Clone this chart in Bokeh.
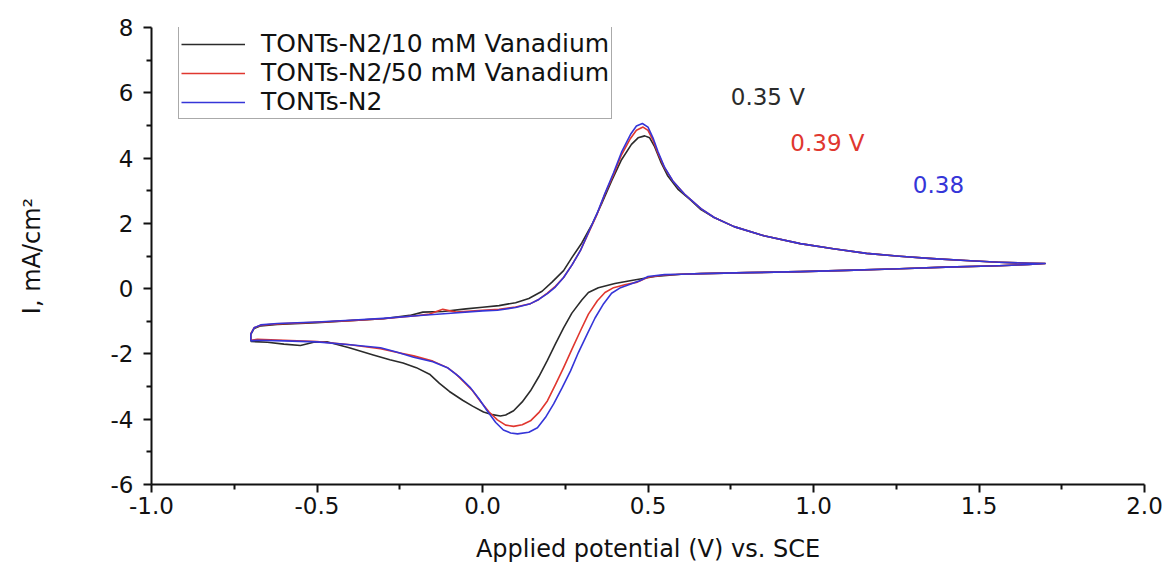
from bokeh.plotting import figure
from bokeh.models import Range1d, FixedTicker, Legend, LegendItem, Label, CustomJSTickFormatter
from bokeh.embed import file_html
from bokeh.resources import INLINE

# ---- data ----
series_names = ["TONTs-N2/10 mM Vanadium", "TONTs-N2/50 mM Vanadium", "TONTs-N2"]
series_colors = ["#2b2b2b", "#e0372f", "#3535d8"]

x_10mM = [-0.70, -0.70, -0.69, -0.67, -0.62, -0.50, -0.40, -0.30, -0.22, -0.18, -0.12, -0.05, 0.00, 0.05, 0.10,
          0.14, 0.18, 0.21, 0.245, 0.27, 0.30, 0.33, 0.36, 0.39, 0.42, 0.45, 0.47, 0.49, 0.505, 0.52, 0.54, 0.56,
          0.59, 0.63, 0.66, 0.70, 0.76, 0.85, 0.96, 1.06, 1.16, 1.26, 1.36, 1.46, 1.56, 1.65, 1.70,
          1.65, 1.56, 1.40, 1.26, 1.10, 0.96, 0.80, 0.66, 0.60, 0.52, 0.45, 0.40, 0.35, 0.32, 0.30, 0.27, 0.245,
          0.22, 0.196, 0.17, 0.145, 0.12, 0.094, 0.07, 0.054, 0.03, 0.003, -0.03, -0.06, -0.10, -0.13, -0.16,
          -0.20, -0.24, -0.28, -0.33, -0.40, -0.47, -0.51, -0.55, -0.60, -0.65, -0.70]
y_10mM = [-1.62, -1.40, -1.22, -1.14, -1.10, -1.04, -0.98, -0.92, -0.82, -0.72, -0.70, -0.62, -0.57, -0.52, -0.43,
          -0.30, -0.08, 0.20, 0.55, 0.95, 1.40, 1.95, 2.60, 3.30, 3.95, 4.42, 4.62, 4.68, 4.62, 4.35, 3.85, 3.45,
          3.05, 2.70, 2.42, 2.18, 1.90, 1.62, 1.38, 1.22, 1.08, 0.99, 0.92, 0.86, 0.81, 0.78, 0.77,
          0.74, 0.70, 0.66, 0.61, 0.56, 0.52, 0.49, 0.46, 0.44, 0.37, 0.25, 0.16, 0.03, -0.12, -0.35, -0.75, -1.20,
          -1.70, -2.20, -2.70, -3.13, -3.47, -3.74, -3.87, -3.90, -3.86, -3.78, -3.60, -3.42, -3.15, -2.90, -2.62,
          -2.42, -2.28, -2.18, -2.03, -1.82, -1.63, -1.64, -1.74, -1.70, -1.64, -1.62]

x_50mM = [-0.70, -0.70, -0.69, -0.67, -0.62, -0.50, -0.40, -0.30, -0.20, -0.16, -0.12, -0.08, 0.00, 0.05, 0.10,
          0.145, 0.17, 0.196, 0.22, 0.245, 0.27, 0.296, 0.32, 0.347, 0.37, 0.396, 0.42, 0.447, 0.465, 0.485, 0.50,
          0.515, 0.53, 0.55, 0.575, 0.61, 0.66, 0.70, 0.76, 0.85, 0.96, 1.06, 1.16, 1.26, 1.36, 1.46, 1.56, 1.65, 1.70,
          1.65, 1.56, 1.40, 1.26, 1.10, 0.96, 0.80, 0.66, 0.60, 0.55, 0.50, 0.468, 0.43, 0.396, 0.37, 0.347, 0.32,
          0.296, 0.27, 0.245, 0.22, 0.196, 0.17, 0.145, 0.12, 0.094, 0.07, 0.045, 0.02, -0.006, -0.03, -0.057,
          -0.08, -0.106, -0.15, -0.208, -0.26, -0.308, -0.40, -0.50, -0.60, -0.68, -0.70]
y_50mM = [-1.58, -1.38, -1.20, -1.12, -1.08, -1.03, -0.98, -0.92, -0.83, -0.78, -0.63, -0.72, -0.66, -0.63, -0.56,
          -0.46, -0.33, -0.14, 0.07, 0.34, 0.72, 1.17, 1.70, 2.30, 2.90, 3.50, 4.10, 4.60, 4.85, 4.95, 4.85,
          4.55, 4.15, 3.70, 3.30, 2.90, 2.45, 2.18, 1.90, 1.62, 1.38, 1.22, 1.08, 0.99, 0.92, 0.86, 0.81, 0.78, 0.77,
          0.74, 0.70, 0.66, 0.61, 0.56, 0.52, 0.49, 0.46, 0.44, 0.42, 0.35, 0.20, 0.12, 0.03, -0.12, -0.37, -0.78,
          -1.29, -1.86, -2.42, -2.95, -3.44, -3.80, -4.05, -4.17, -4.22, -4.18, -4.02, -3.78, -3.46, -3.13, -2.85,
          -2.62, -2.42, -2.22, -2.06, -1.95, -1.84, -1.72, -1.62, -1.58, -1.55, -1.58]

x_N2 = [-0.70, -0.70, -0.69, -0.67, -0.62, -0.50, -0.40, -0.30, -0.20, -0.106, 0.00, 0.045, 0.10, 0.145, 0.17,
        0.196, 0.22, 0.245, 0.27, 0.296, 0.32, 0.347, 0.37, 0.396, 0.42, 0.447, 0.465, 0.483, 0.50, 0.515, 0.53,
        0.55, 0.575, 0.61, 0.66, 0.70, 0.76, 0.85, 0.96, 1.06, 1.16, 1.26, 1.36, 1.46, 1.56, 1.65, 1.70,
        1.65, 1.56, 1.40, 1.26, 1.10, 0.96, 0.80, 0.66, 0.60, 0.55, 0.50, 0.477, 0.45, 0.417, 0.39, 0.366, 0.34,
        0.317, 0.29, 0.266, 0.24, 0.215, 0.19, 0.166, 0.14, 0.106, 0.085, 0.063, 0.04, 0.014, -0.01, -0.036,
        -0.07, -0.106, -0.15, -0.208, -0.26, -0.308, -0.40, -0.50, -0.60, -0.68, -0.70]
y_N2 = [-1.60, -1.40, -1.20, -1.11, -1.07, -1.02, -0.97, -0.91, -0.83, -0.76, -0.68, -0.66, -0.58, -0.46, -0.33,
        -0.15, 0.05, 0.34, 0.72, 1.17, 1.72, 2.32, 2.92, 3.55, 4.18, 4.72, 4.98, 5.06, 4.95, 4.62, 4.20,
        3.72, 3.30, 2.90, 2.45, 2.18, 1.90, 1.62, 1.38, 1.22, 1.08, 0.99, 0.92, 0.86, 0.81, 0.78, 0.77,
        0.74, 0.70, 0.66, 0.61, 0.56, 0.52, 0.49, 0.46, 0.44, 0.43, 0.37, 0.25, 0.15, 0.03, -0.14, -0.46, -0.90,
        -1.38, -1.95, -2.52, -3.05, -3.53, -3.95, -4.26, -4.40, -4.45, -4.42, -4.33, -4.10, -3.74, -3.38, -3.04,
        -2.70, -2.42, -2.24, -2.10, -1.94, -1.81, -1.72, -1.63, -1.60, -1.58, -1.60]

x_ticks = [-1.0, -0.5, 0.0, 0.5, 1.0, 1.5, 2.0]
x_minor = [-0.75, -0.25, 0.25, 0.75, 1.25, 1.75]
y_ticks = [-6, -4, -2, 0, 2, 4, 6, 8]
y_minor = [-5, -3, -1, 1, 3, 5, 7]

annot_texts = ["0.35 V", "0.39 V", "0.38"]
annot_x = [0.75, 0.93, 1.30]
annot_y = [5.86, 4.45, 3.19]

FONT = "DejaVu Sans"
INK = "#111111"

p = figure(width=1170, height=567, output_backend="svg", toolbar_location=None,
           x_range=Range1d(-1.0, 2.0), y_range=Range1d(-6, 8),
           min_border_left=151, min_border_right=26, min_border_top=27, min_border_bottom=83)
p.xgrid.visible = False
p.ygrid.visible = False
p.outline_line_color = None
p.background_fill_color = "white"
p.border_fill_color = "white"

for ax in (p.xaxis[0], p.yaxis[0]):
    ax.axis_line_width = 2
    ax.axis_line_color = INK
    ax.major_tick_line_width = 2
    ax.minor_tick_line_width = 2
    ax.major_tick_line_color = INK
    ax.minor_tick_line_color = INK
    ax.major_tick_out = 8
    ax.major_tick_in = 0
    ax.minor_tick_out = 5
    ax.minor_tick_in = 0
    ax.major_label_text_font = FONT
    ax.major_label_text_font_size = "23px"
    ax.major_label_text_color = INK
    ax.axis_label_text_font = FONT
    ax.axis_label_text_font_size = "24px"
    ax.axis_label_text_font_style = "normal"
    ax.axis_label_text_color = INK

p.xaxis[0].ticker = FixedTicker(ticks=x_ticks, minor_ticks=x_minor)
p.yaxis[0].ticker = FixedTicker(ticks=y_ticks, minor_ticks=y_minor)
p.xaxis[0].formatter = CustomJSTickFormatter(code="return tick.toFixed(1);")
p.yaxis[0].formatter = CustomJSTickFormatter(code="return tick.toFixed(0);")
p.xaxis[0].axis_label = "Applied potential (V) vs. SCE"
p.yaxis[0].axis_label = "I, mA/cm\u00b2"
p.xaxis[0].major_label_standoff = 4
p.xaxis[0].axis_label_standoff = 18
p.yaxis[0].major_label_standoff = 10
p.yaxis[0].axis_label_standoff = 62

xs = [x_10mM, x_50mM, x_N2]
ys = [y_10mM, y_50mM, y_N2]
renderers = []
for xv, yv, c in zip(xs, ys, series_colors):
    r = p.line(xv, yv, line_color=c, line_width=1.6, line_join="round")
    renderers.append(r)

legend = Legend(items=[LegendItem(label=n, renderers=[r]) for n, r in zip(series_names, renderers)],
                location=(27, 365), orientation="vertical",
                label_text_font=FONT, label_text_font_size="25px", label_text_color=INK,
                glyph_width=64, glyph_height=28, label_height=28, label_standoff=16,
                padding=2, spacing=0, margin=0,
                border_line_color="#555555", border_line_width=1.5,
                background_fill_color="white", background_fill_alpha=1.0)
p.add_layout(legend)

for t, xv, yv, c in zip(annot_texts, annot_x, annot_y, series_colors):
    p.add_layout(Label(x=xv, y=yv, text=t, text_color=c, text_font=FONT, text_font_size="23px",
                       text_baseline="middle", text_align="left"))

open("out.html", "w").write(file_html(p, INLINE))
